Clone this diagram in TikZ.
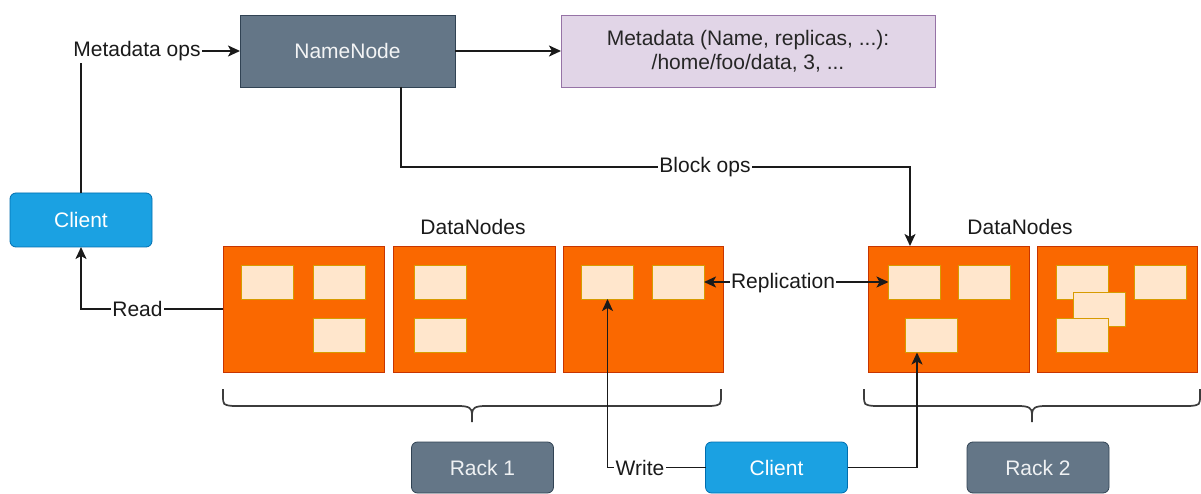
\documentclass[tikz,border=0pt]{standalone}
\usepackage{fontspec}
\setmainfont{Liberation Sans}
\usetikzlibrary{arrows.meta,calc}

\definecolor{slate}{HTML}{647687}
\definecolor{slateline}{HTML}{314354}
\definecolor{clientblue}{HTML}{1BA1E2}
\definecolor{clientline}{HTML}{006EAF}
\definecolor{dnorange}{HTML}{FA6800}
\definecolor{dnline}{HTML}{C73500}
\definecolor{blockfill}{HTML}{FFE6CC}
\definecolor{blockline}{HTML}{D79B00}
\definecolor{metafill}{HTML}{E1D5E7}
\definecolor{metaline}{HTML}{9673A6}
\definecolor{ink}{HTML}{1A1A1A}

\tikzset{
  every node/.style={font=\fontsize{21}{24}\selectfont, inner sep=0pt, outer sep=0pt},
  darkbox/.style={draw=slateline, line width=0.8pt, fill=slate, text=white!92!slate},
  clientbox/.style={draw=clientline, line width=0.8pt, fill=clientblue, text=white, rounded corners=6pt,
    minimum width=142pt, minimum height=54pt},
  rackbox/.style={draw=slateline, line width=0.8pt, fill=slate, text=white!90!slate, rounded corners=6pt,
    minimum width=142pt, minimum height=51pt},
  metabox/.style={draw=metaline, line width=0.8pt, fill=metafill, text=black!85, align=center},
  dnbox/.style={draw=dnline, line width=0.8pt, fill=dnorange, minimum height=126pt},
  blockbox/.style={draw=blockline, line width=0.8pt, fill=blockfill, minimum width=52pt, minimum height=34pt},
  wire/.style={draw=ink, line width=1.8pt},
  arr/.style={wire, -{Stealth[length=12pt,width=11pt,inset=3pt]}},
  biarr/.style={wire, {Stealth[length=12pt,width=11pt,inset=3pt]}-{Stealth[length=12pt,width=11pt,inset=3pt]}},
  lbl/.style={fill=white, text=ink, inner xsep=1.5pt, inner ysep=2pt},
  brace/.style={draw=ink!85, line width=1.7pt},
}

\begin{document}
\begin{tikzpicture}[x=1pt, y=-1pt]
\useasboundingbox[fill=white] (0,0) rectangle (1201,494);

% master and its metadata table
\node[darkbox, minimum width=215pt, minimum height=72pt] (name) at (347.5,51) {NameNode};
\node[metabox, minimum width=374pt, minimum height=72pt] (meta) at (748,51)
  {Metadata (Name, replicas, ...):\\[0pt]/home/foo/data, 3, ...};

% clients
\node[clientbox] (client1) at (81,220) {Client};
\node[clientbox, minimum height=51pt] (client2) at (776.5,467.5) {Client};

% racks
\node[rackbox] (rack1) at (482.5,467.5) {Rack 1};
\node[rackbox] (rack2) at (1038,467.5) {Rack 2};

% datanodes
\node[dnbox, minimum width=161pt] (dn1) at (303.5,309) {};
\node[dnbox, minimum width=162pt] (dn2) at (474,309) {};
\node[dnbox, minimum width=160pt] (dn3) at (643,309) {};
\node[dnbox, minimum width=161pt] (dn4) at (948.5,309) {};
\node[dnbox, minimum width=160pt] (dn5) at (1117,309) {};

\node[text=ink] (dnlabel1) at (473,227) {DataNodes};
\node[text=ink] (dnlabel2) at (1020,227) {DataNodes};

% blocks held by each datanode
\node[blockbox] (b11) at (267.5,282) {};
\node[blockbox] (b12) at (339,282) {};
\node[blockbox] (b13) at (339,335.5) {};
\node[blockbox] (b21) at (440,282) {};
\node[blockbox] (b22) at (440,335.5) {};
\node[blockbox] (b31) at (607.5,282) {};
\node[blockbox] (b32) at (678,282) {};
\node[blockbox] (b41) at (914.5,282) {};
\node[blockbox] (b42) at (984,282) {};
\node[blockbox] (b43) at (931,335.5) {};
\node[blockbox] (b51) at (1082,282) {};
\node[blockbox] (b52) at (1160.5,282) {};
\node[blockbox] (b53) at (1099.5,309) {};
\node[blockbox] (b54) at (1082,335.5) {};

% rack braces
\draw[brace] (223,389) -- (223,395) .. controls (223,405) .. (233,406)
  -- (458,406) .. controls (469,406) and (472,408) .. (472,414) -- (472,422)
  (472,414) .. controls (472,408) and (475,406) .. (486,406)
  -- (711,406) .. controls (721,405) .. (721,395) -- (721,389);
\draw[brace] (864,389) -- (864,395) .. controls (864,405) .. (874,406)
  -- (1018,406) .. controls (1029,406) and (1032,408) .. (1032,414) -- (1032,422)
  (1032,414) .. controls (1032,408) and (1035,406) .. (1046,406)
  -- (1190,406) .. controls (1200,405) .. (1200,395) -- (1200,389);

% connectors
\draw[arr] (client1.north) |- (name.west);
\node[lbl] (lmeta) at (137,51) {Metadata ops};

\draw[arr] (name) -- (meta);

\draw[arr] ([xshift=53.5pt]name.south) -- ++(0,80) -| ([xshift=-38.5pt]dn4.north);
\node[lbl] (lblock) at (705,167) {Block ops};

\draw[arr] (dn1.west) -| (client1.south);
\node[lbl] (lread) at (137.5,309) {Read};

\draw[biarr] (b32.east) -- (b41.west);
\node[lbl] (lrep) at (783,283) {Replication};

\draw[arr] (client2.west) -| (b31.south);
\node[lbl] (lwrite) at (640,468) {Write};

\draw[arr] (client2.east) -| ([xshift=-14pt]b43.south);
\end{tikzpicture}
\end{document}
